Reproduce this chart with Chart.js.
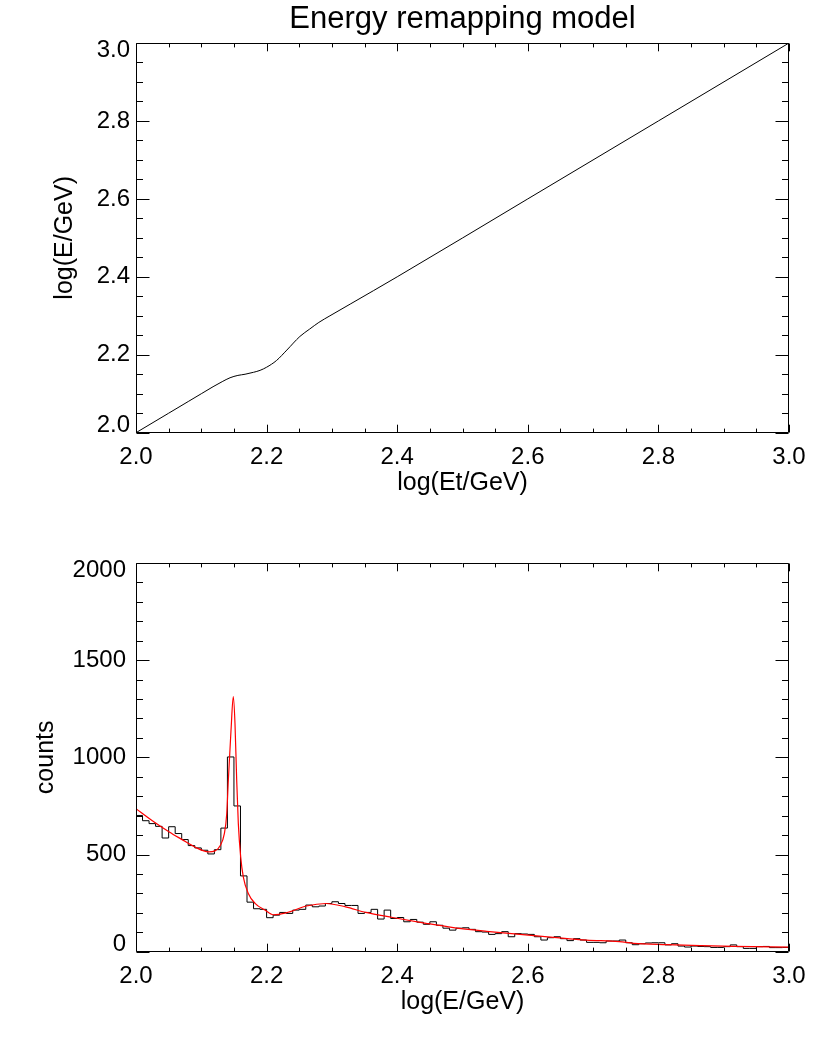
<!DOCTYPE html>
<html>
<head>
<meta charset="utf-8">
<script src="https://cdn.jsdelivr.net/npm/chart.js@4.4.1/dist/chart.umd.min.js"></script>
<style>
  html, body { margin: 0; padding: 0; background: #fff; }
  .panel { position: absolute; left: 0; width: 830px; height: 519px; }
</style>
</head>
<body>
<div class="panel" style="top:0"><canvas id="remapChart" width="830" height="519"></canvas></div>
<div class="panel" style="top:519px"><canvas id="countsChart" width="830" height="519"></canvas></div>
<script>
  // top panel: true energy -> reconstructed energy (log10 GeV)
  const remapEt = [2.000, 2.050, 2.080, 2.100, 2.118, 2.132, 2.144, 2.156, 2.167, 2.180, 2.190, 2.200, 2.215, 2.231, 2.251, 2.266, 2.280, 2.297, 2.328, 2.400, 2.600, 2.800, 3.000];
  const remapE = [2.000, 2.050, 2.080, 2.100, 2.118, 2.131, 2.141, 2.147, 2.150, 2.155, 2.160, 2.168, 2.185, 2.212, 2.247, 2.266, 2.283, 2.300, 2.330, 2.400, 2.600, 2.800, 3.000];

  // bottom panel: histogram, 100 bins of 0.01 starting at 2.00
  const binStart = 2.0;
  const binWidth = 0.01;
  const histCounts = [
    701, 674, 659, 645, 585, 643, 608, 577, 546, 534,
    522, 503, 525, 636, 1002, 750, 390, 255, 221, 218,
    175, 188, 202, 197, 214, 218, 240, 231, 235, 248,
    257, 248, 238, 238, 197, 202, 218, 168, 214, 171,
    176, 154, 166, 152, 141, 154, 136, 121, 111, 121,
    123, 115, 103, 101, 89, 93, 103, 77, 93, 91,
    89, 77, 60, 72, 77, 67, 57, 67, 60, 48,
    48, 46, 55, 55, 60, 46, 36, 41, 45, 46,
    46, 35, 41, 29, 24, 29, 27, 26, 22, 22,
    26, 35, 26, 17, 17, 26, 27, 21, 21, 22
  ];

  // red model curve
  const modelE = [2.000, 2.025, 2.051, 2.070, 2.090, 2.111, 2.121, 2.1286, 2.1353, 2.139, 2.1414, 2.1455, 2.149, 2.1516, 2.1542, 2.1567, 2.1603, 2.1643, 2.172, 2.1823, 2.1975, 2.210, 2.230, 2.261, 2.291, 2.321, 2.352, 2.393, 2.444, 2.486, 2.537, 2.588, 2.639, 2.690, 2.740, 2.762, 2.813, 2.864, 2.915, 3.000];
  const modelCounts = [736, 674, 616, 578, 539, 514, 519, 544, 608, 711, 882, 1139, 1313, 1173, 882, 659, 488, 385, 300, 249, 214, 190, 200, 235, 248, 231, 202, 176, 146, 124, 105, 89, 74, 60, 52, 43, 36, 31, 27, 24];

  const xTicks = [2.0, 2.2, 2.4, 2.6, 2.8, 3.0];

  Chart.defaults.font.family = "'Liberation Sans', Arial, Helvetica, sans-serif";
  Chart.defaults.color = '#000';

  // frame on all four sides with inward major/minor ticks, IDL style
  const idlFrame = {
    id: 'idlFrame',
    afterDatasetsDraw(chart, args, opts) {
      const { ctx, chartArea: a, scales: { x, y } } = chart;
      const L = Math.round(a.left) + 0.5, R = Math.round(a.right) - 0.5;
      const T = Math.round(a.top) + 0.5, B = Math.round(a.bottom) - 0.5;
      ctx.save();
      ctx.strokeStyle = '#000';
      ctx.lineWidth = 1;
      ctx.beginPath();
      ctx.rect(L, T, R - L, B - T);

      const nx = Math.round((x.max - x.min) / opts.xMinor);
      for (let i = 0; i <= nx; i++) {
        const v = x.min + i * opts.xMinor;
        const major = Math.abs(v / opts.xMajor - Math.round(v / opts.xMajor)) < 1e-6;
        const len = major ? opts.xLen : opts.xLen / 2;
        const px = Math.round(x.getPixelForValue(v)) + 0.5;
        ctx.moveTo(px, B); ctx.lineTo(px, B - len);
        ctx.moveTo(px, T); ctx.lineTo(px, T + len);
      }
      const ny = Math.round((y.max - y.min) / opts.yMinor);
      for (let i = 0; i <= ny; i++) {
        const v = y.min + i * opts.yMinor;
        const major = Math.abs(v / opts.yMajor - Math.round(v / opts.yMajor)) < 1e-6;
        const len = major ? opts.yLen : opts.yLen / 2;
        const py = Math.round(y.getPixelForValue(v)) + 0.5;
        ctx.moveTo(L, py); ctx.lineTo(L + len, py);
        ctx.moveTo(R, py); ctx.lineTo(R - len, py);
      }
      ctx.stroke();
      ctx.restore();
    }
  };

  function xAxis(title) {
    return {
      type: 'linear',
      min: 2, max: 3,
      afterBuildTicks: scale => { scale.ticks = xTicks.map(v => ({ value: v })); },
      afterFit: scale => { scale.height = 86.3; },
      grid: { display: false, drawTicks: false },
      border: { display: false },
      ticks: {
        padding: 9.8,
        font: { size: 24 },
        callback: v => v.toFixed(1)
      },
      title: { display: true, text: title, font: { size: 25 }, padding: { top: 0, bottom: 20.7 } }
    };
  }

  // end labels nudged inward like the original plot
  function endLabel(text, isTop, isBottom) {
    if (isTop) return ['', text];
    if (isBottom) return [text, ''];
    return text;
  }

  new Chart(document.getElementById('remapChart'), {
    type: 'line',
    data: {
      datasets: [{
        data: remapEt.map((v, i) => ({ x: v, y: remapE[i] })),
        borderColor: '#000',
        borderWidth: 1,
        pointRadius: 0,
        cubicInterpolationMode: 'monotone'
      }]
    },
    options: {
      responsive: false,
      devicePixelRatio: 1,
      animation: false,
      layout: { padding: { left: 0, right: 41, top: 0, bottom: 0 } },
      plugins: {
        legend: { display: false },
        tooltip: { enabled: false },
        title: {
          display: true,
          text: 'Energy remapping model',
          fullSize: false,
          color: '#000',
          font: { size: 31, weight: 'normal', lineHeight: 1.2 },
          padding: { top: 1, bottom: 4.8 }
        },
        idlFrame: { xMinor: 0.05, xMajor: 0.2, yMinor: 0.05, yMajor: 0.2, xLen: 7.8, yLen: 13 }
      },
      scales: {
        x: xAxis('log(Et/GeV)'),
        y: {
          type: 'linear',
          min: 2, max: 3,
          afterBuildTicks: scale => { scale.ticks = xTicks.map(v => ({ value: v })); },
          afterFit: scale => { scale.width = 136; },
          grid: { display: false, drawTicks: false },
          border: { display: false },
          ticks: {
            padding: 6,
            font: { size: 24, lineHeight: 0.625 },
            callback: v => endLabel(v.toFixed(1), v > 2.99, v < 2.01)
          },
          title: { display: true, text: 'log(E/GeV)', font: { size: 25 }, padding: { top: 50, bottom: 0 } }
        }
      }
    },
    plugins: [idlFrame]
  });

  const histPoints = histCounts.map((c, i) => ({ x: binStart + i * binWidth, y: c }));
  histPoints.push({ x: binStart + histCounts.length * binWidth, y: histCounts[histCounts.length - 1] });

  new Chart(document.getElementById('countsChart'), {
    type: 'line',
    data: {
      datasets: [{
        label: 'model',
        data: modelE.map((v, i) => ({ x: v, y: modelCounts[i] })),
        borderColor: '#ff0000',
        borderWidth: 1.2,
        pointRadius: 0,
        cubicInterpolationMode: 'monotone'
      }, {
        label: 'counts',
        data: histPoints,
        borderColor: '#000',
        borderWidth: 1,
        pointRadius: 0,
        stepped: true
      }]
    },
    options: {
      responsive: false,
      devicePixelRatio: 1,
      animation: false,
      layout: { padding: { left: 0, right: 41, top: 44, bottom: 0 } },
      plugins: {
        legend: { display: false },
        tooltip: { enabled: false },
        idlFrame: { xMinor: 0.05, xMajor: 0.2, yMinor: 100, yMajor: 500, xLen: 7.8, yLen: 13 }
      },
      scales: {
        x: xAxis('log(E/GeV)'),
        y: {
          type: 'linear',
          min: 0, max: 2000,
          afterBuildTicks: scale => { scale.ticks = [0, 500, 1000, 1500, 2000].map(v => ({ value: v })); },
          afterFit: scale => { scale.width = 136; },
          grid: { display: false, drawTicks: false },
          border: { display: false },
          ticks: {
            padding: 10,
            font: { size: 24, lineHeight: 0.625 },
            callback: v => endLabel(String(v), v === 2000, v === 0)
          },
          title: { display: true, text: 'counts', font: { size: 25 }, padding: { top: 31, bottom: 0 } }
        }
      }
    },
    plugins: [idlFrame]
  });
</script>
</body>
</html>
